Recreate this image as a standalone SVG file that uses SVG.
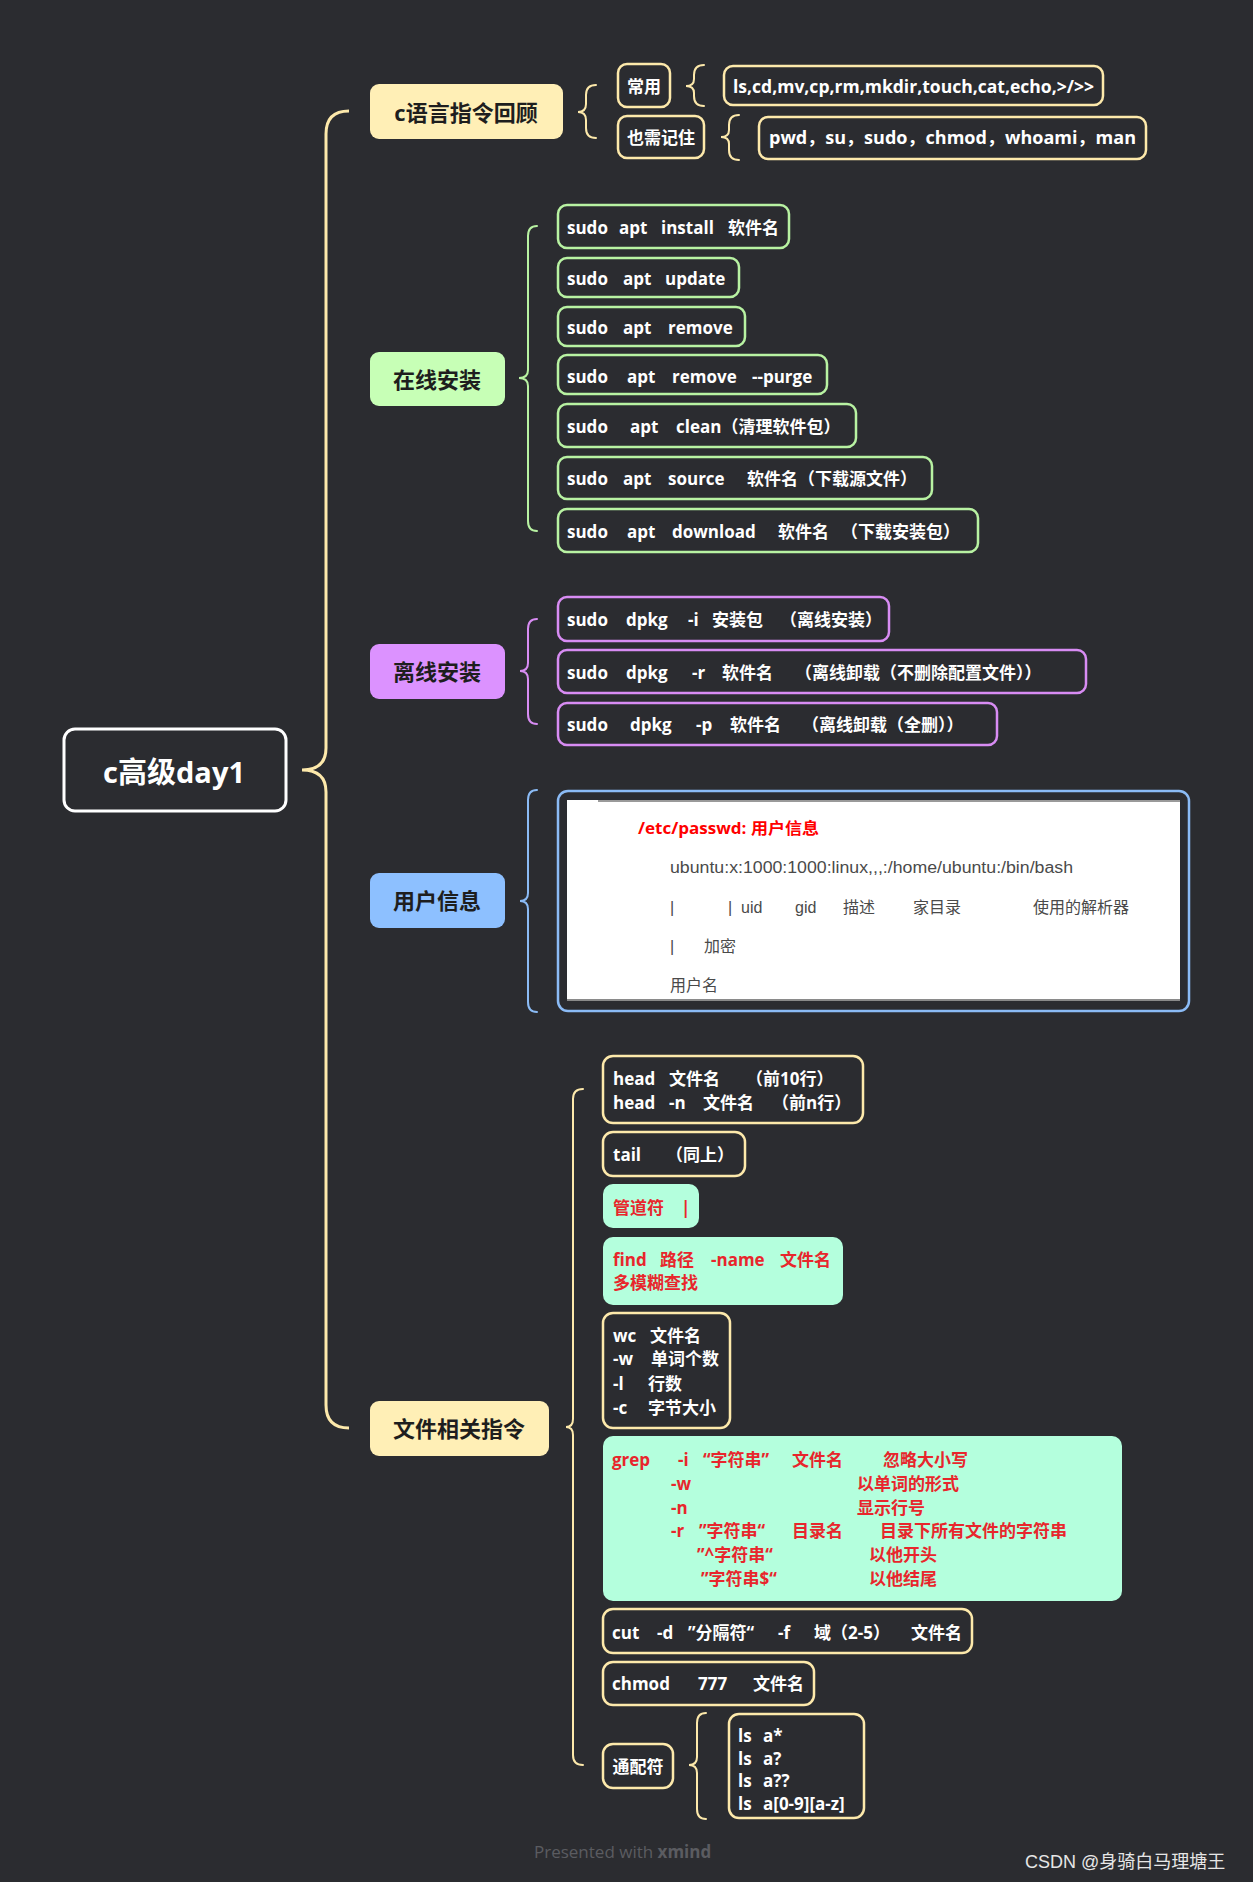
<svg xmlns="http://www.w3.org/2000/svg" width="1253" height="1882" viewBox="0 0 1253 1882">
<style>
text{font-family:"Open Sans","Noto Sans CJK SC",sans-serif;font-weight:bold;dominant-baseline:central}
.w{fill:#ffffff;font-size:17px}
.r{fill:#e8262c;font-size:17px}
.t{fill:#1e1e1e;font-size:22px;text-anchor:middle}
.g{font-family:"Liberation Sans","Noto Sans CJK SC",sans-serif;font-weight:normal;fill:#4a4a4a;font-size:16px}
.ft{font-weight:normal;fill:#5b5c61;font-size:17px}
.cs{font-family:"Liberation Sans","Noto Sans CJK SC",sans-serif;font-weight:normal;fill:#e6e6e6;font-size:18px}
.by{fill:#2b2c30;stroke:#fde9ab;stroke-width:2.5}
.bg{fill:#2b2c30;stroke:#b8f2a2;stroke-width:2.5}
.bv{fill:#2b2c30;stroke:#d88cf3;stroke-width:2.5}
.mint{fill:#b4ffdd}
.br{fill:none;stroke-width:2;stroke-linecap:round}
</style>
<rect width="1253" height="1882" fill="#2b2c30"/>

<g id="connectors">
  <path d="M349,111 Q326,111 326,134 L326,748 Q326,770 302,770 Q326,770 326,792 L326,1405 Q326,1428 349,1428" fill="none" stroke="#fde9ab" stroke-width="3"/>
  <path class="br" stroke="#fde9ab" d="M596,85 Q586,85 586,95 L586,104 Q586,112 578,112 Q586,112 586,120 L586,128 Q586,138 596,138"/>
  <path class="br" stroke="#fde9ab" d="M704,65 Q694,65 694,75 L694,79 Q694,86 686,86 Q694,86 694,93 L694,96 Q694,106 704,106"/>
  <path class="br" stroke="#fde9ab" d="M739,115 Q729,115 729,125 L729,130 Q729,137 721,137 Q729,137 729,144 L729,150 Q729,160 739,160"/>
  <path class="br" stroke="#b8f2a2" d="M537,226 Q528,226 528,236 L528,370 Q528,378 519,378 Q528,378 528,386 L528,521 Q528,531 537,531"/>
  <path class="br" stroke="#d88cf3" d="M537,619 Q528,619 528,629 L528,663 Q528,671 520,671 Q528,671 528,679 L528,714 Q528,724 537,724"/>
  <path class="br" stroke="#8bbbf5" d="M537,790 Q528,790 528,800 L528,893 Q528,901 520,901 Q528,901 528,909 L528,1002 Q528,1012 537,1012"/>
  <path class="br" stroke="#fde9ab" d="M583,1089 Q573,1089 573,1099 L573,1419 Q573,1427 566,1427 Q573,1427 573,1435 L573,1755 Q573,1765 583,1765"/>
  <path class="br" stroke="#fde9ab" d="M706,1713 Q697,1713 697,1723 L697,1757 Q697,1765 689,1765 Q697,1765 697,1773 L697,1809 Q697,1819 706,1819"/>
</g>

<g id="root">
  <rect x="64" y="729" width="222" height="82" rx="11" fill="#2b2c30" stroke="#ffffff" stroke-width="3"/>
  <text x="174" y="771" fill="#ffffff" font-size="29" text-anchor="middle" textLength="142" lengthAdjust="spacingAndGlyphs">c高级day1</text>
</g>

<g id="topic-review">
  <rect x="370" y="84" width="193" height="55" rx="9" fill="#ffefb6"/>
  <text class="t" x="466" y="112">c语言指令回顾</text>
</g>
<g id="node-common">
  <rect class="by" x="618" y="64" width="52" height="43" rx="9"/>
  <text class="w" x="644" y="86" text-anchor="middle">常用</text>
</g>
<g id="node-common-list">
  <rect class="by" x="724" y="66" width="379" height="39" rx="9"/>
  <text class="w" x="733" y="86" textLength="361" lengthAdjust="spacingAndGlyphs">ls,cd,mv,cp,rm,mkdir,touch,cat,echo,&gt;/&gt;&gt;</text>
</g>
<g id="node-remember">
  <rect class="by" x="618" y="116" width="86" height="42" rx="9"/>
  <text class="w" x="661" y="137" text-anchor="middle">也需记住</text>
</g>
<g id="node-remember-list">
  <rect class="by" x="759" y="117" width="387" height="42" rx="9"/>
  <text class="w" x="769" y="137" textLength="367" lengthAdjust="spacingAndGlyphs">pwd，su，sudo，chmod，whoami，man</text>
</g>

<g id="topic-online">
  <rect x="370" y="352" width="135" height="54" rx="9" fill="#c7ffb6"/>
  <text class="t" x="437" y="379">在线安装</text>
</g>
<g id="online-1">
  <rect class="bg" x="558" y="205" width="231" height="43" rx="9"/>
  <text class="w" y="227"><tspan x="567">sudo</tspan><tspan x="619">apt</tspan><tspan x="661">install</tspan><tspan x="728">软件名</tspan></text>
</g>
<g id="online-2">
  <rect class="bg" x="558" y="258" width="181" height="39" rx="9"/>
  <text class="w" y="278"><tspan x="567">sudo</tspan><tspan x="623">apt</tspan><tspan x="665">update</tspan></text>
</g>
<g id="online-3">
  <rect class="bg" x="558" y="307" width="187" height="39" rx="9"/>
  <text class="w" y="327"><tspan x="567">sudo</tspan><tspan x="623">apt</tspan><tspan x="668">remove</tspan></text>
</g>
<g id="online-4">
  <rect class="bg" x="558" y="355" width="269" height="39" rx="9"/>
  <text class="w" y="376"><tspan x="567">sudo</tspan><tspan x="627">apt</tspan><tspan x="672">remove</tspan><tspan x="752">--purge</tspan></text>
</g>
<g id="online-5">
  <rect class="bg" x="558" y="404" width="298" height="43" rx="9"/>
  <text class="w" y="426"><tspan x="567">sudo</tspan><tspan x="630">apt</tspan><tspan x="676">clean（清理软件包）</tspan></text>
</g>
<g id="online-6">
  <rect class="bg" x="558" y="457" width="374" height="42" rx="9"/>
  <text class="w" y="478"><tspan x="567">sudo</tspan><tspan x="623">apt</tspan><tspan x="668">source</tspan><tspan x="747">软件名（下载源文件）</tspan></text>
</g>
<g id="online-7">
  <rect class="bg" x="558" y="509" width="420" height="43" rx="9"/>
  <text class="w" y="531"><tspan x="567">sudo</tspan><tspan x="627">apt</tspan><tspan x="672">download</tspan><tspan x="778">软件名</tspan><tspan x="841">（下载安装包）</tspan></text>
</g>

<g id="topic-offline">
  <rect x="370" y="644" width="135" height="55" rx="9" fill="#dc92ff"/>
  <text class="t" x="437" y="671">离线安装</text>
</g>
<g id="offline-1">
  <rect class="bv" x="558" y="597" width="331" height="44" rx="9"/>
  <text class="w" y="619"><tspan x="567">sudo</tspan><tspan x="626">dpkg</tspan><tspan x="688">-i</tspan><tspan x="712">安装包</tspan><tspan x="780">（离线安装）</tspan></text>
</g>
<g id="offline-2">
  <rect class="bv" x="558" y="650" width="528" height="43" rx="9"/>
  <text class="w" y="672"><tspan x="567">sudo</tspan><tspan x="626">dpkg</tspan><tspan x="692">-r</tspan><tspan x="722">软件名</tspan><tspan x="795">（离线卸载（不删除配置文件））</tspan></text>
</g>
<g id="offline-3">
  <rect class="bv" x="558" y="703" width="439" height="42" rx="9"/>
  <text class="w" y="724"><tspan x="567">sudo</tspan><tspan x="630">dpkg</tspan><tspan x="696">-p</tspan><tspan x="730">软件名</tspan><tspan x="802">（离线卸载（全删））</tspan></text>
</g>

<g id="topic-user">
  <rect x="370" y="873" width="135" height="55" rx="9" fill="#8dc0ff"/>
  <text class="t" x="437" y="900">用户信息</text>
</g>
<g id="user-info">
  <rect x="558" y="791" width="631" height="220" rx="10" fill="#2b2c30" stroke="#8bbbf5" stroke-width="2.5"/>
  <rect x="567" y="800" width="613" height="201" fill="#ffffff"/>
  <rect x="598" y="800" width="582" height="2" fill="#9a9a9a"/>
  <rect x="567" y="999" width="613" height="2" fill="#8a8a8a"/>
  <text x="638" y="828" fill="#ff0000" font-size="16" font-family="Liberation Sans, Noto Sans CJK SC, sans-serif" textLength="181" lengthAdjust="spacingAndGlyphs">/etc/passwd: 用户信息</text>
  <text class="g" x="670" y="867" textLength="403" lengthAdjust="spacingAndGlyphs">ubuntu:x:1000:1000:linux,,,:/home/ubuntu:/bin/bash</text>
  <text class="g" y="907"><tspan x="670">|</tspan><tspan x="728">|</tspan><tspan x="741">uid</tspan><tspan x="795">gid</tspan><tspan x="843">描述</tspan><tspan x="913">家目录</tspan><tspan x="1033">使用的解析器</tspan></text>
  <text class="g" y="946"><tspan x="670">|</tspan><tspan x="704">加密</tspan></text>
  <text class="g" x="670" y="985">用户名</text>
</g>

<g id="topic-files">
  <rect x="370" y="1401" width="179" height="55" rx="9" fill="#ffefb6"/>
  <text class="t" x="459" y="1428">文件相关指令</text>
</g>
<g id="file-head">
  <rect class="by" x="603" y="1056" width="260" height="67" rx="10"/>
  <text class="w" y="1078"><tspan x="613">head</tspan><tspan x="669">文件名</tspan><tspan x="746">（前10行）</tspan></text>
  <text class="w" y="1102"><tspan x="613">head</tspan><tspan x="669">-n</tspan><tspan x="703">文件名</tspan><tspan x="772">（前n行）</tspan></text>
</g>
<g id="file-tail">
  <rect class="by" x="603" y="1132" width="142" height="44" rx="10"/>
  <text class="w" y="1154"><tspan x="613">tail</tspan><tspan x="666">（同上）</tspan></text>
</g>
<g id="file-pipe">
  <rect class="mint" x="603" y="1184" width="96" height="44" rx="10"/>
  <text class="r" y="1207"><tspan x="613">管道符</tspan><tspan x="681">|</tspan></text>
</g>
<g id="file-find">
  <rect class="mint" x="603" y="1237" width="240" height="68" rx="10"/>
  <text class="r" y="1259"><tspan x="613">find</tspan><tspan x="660">路径</tspan><tspan x="711">-name</tspan><tspan x="780">文件名</tspan></text>
  <text class="r" x="613" y="1282">多模糊查找</text>
</g>
<g id="file-wc">
  <rect class="by" x="603" y="1313" width="127" height="115" rx="10"/>
  <text class="w" y="1335"><tspan x="613">wc</tspan><tspan x="650">文件名</tspan></text>
  <text class="w" y="1358"><tspan x="613">-w</tspan><tspan x="651">单词个数</tspan></text>
  <text class="w" y="1383"><tspan x="613">-l</tspan><tspan x="648">行数</tspan></text>
  <text class="w" y="1407"><tspan x="613">-c</tspan><tspan x="648">字节大小</tspan></text>
</g>
<g id="file-grep">
  <rect class="mint" x="603" y="1436" width="519" height="165" rx="10"/>
  <text class="r" y="1459"><tspan x="612">grep</tspan><tspan x="678">-i</tspan><tspan x="703">“字符串”</tspan><tspan x="792">文件名</tspan><tspan x="883">忽略大小写</tspan></text>
  <text class="r" y="1483"><tspan x="671">-w</tspan><tspan x="857">以单词的形式</tspan></text>
  <text class="r" y="1507"><tspan x="671">-n</tspan><tspan x="857">显示行号</tspan></text>
  <text class="r" y="1530"><tspan x="671">-r</tspan><tspan x="699">”字符串“</tspan><tspan x="792">目录名</tspan><tspan x="880">目录下所有文件的字符串</tspan></text>
  <text class="r" y="1554"><tspan x="697">”^字符串“</tspan><tspan x="869">以他开头</tspan></text>
  <text class="r" y="1578"><tspan x="701">”字符串$“</tspan><tspan x="869">以他结尾</tspan></text>
</g>
<g id="file-cut">
  <rect class="by" x="603" y="1609" width="369" height="44" rx="10"/>
  <text class="w" y="1632"><tspan x="612">cut</tspan><tspan x="657">-d</tspan><tspan x="688">”分隔符“</tspan><tspan x="778">-f</tspan><tspan x="814">域（2-5）</tspan><tspan x="911">文件名</tspan></text>
</g>
<g id="file-chmod">
  <rect class="by" x="603" y="1662" width="211" height="43" rx="10"/>
  <text class="w" y="1683"><tspan x="612">chmod</tspan><tspan x="698">777</tspan><tspan x="753">文件名</tspan></text>
</g>
<g id="file-wildcard">
  <rect class="by" x="603" y="1744" width="70" height="44" rx="10"/>
  <text class="w" x="638" y="1766" text-anchor="middle">通配符</text>
</g>
<g id="file-wildcard-list">
  <rect class="by" x="729" y="1714" width="135" height="104" rx="10"/>
  <text class="w" y="1735"><tspan x="738">ls</tspan><tspan x="763">a*</tspan></text>
  <text class="w" y="1758"><tspan x="738">ls</tspan><tspan x="763">a?</tspan></text>
  <text class="w" y="1780"><tspan x="738">ls</tspan><tspan x="763">a??</tspan></text>
  <text class="w" y="1803"><tspan x="738">ls</tspan><tspan x="763">a[0-9][a-z]</tspan></text>
</g>

<g id="footer">
  <text class="ft" x="534" y="1851">Presented with <tspan style="font-weight:bold">xmind</tspan></text>
  <text class="cs" x="1025" y="1862">CSDN @身骑白马理塘王</text>
</g>
</svg>
